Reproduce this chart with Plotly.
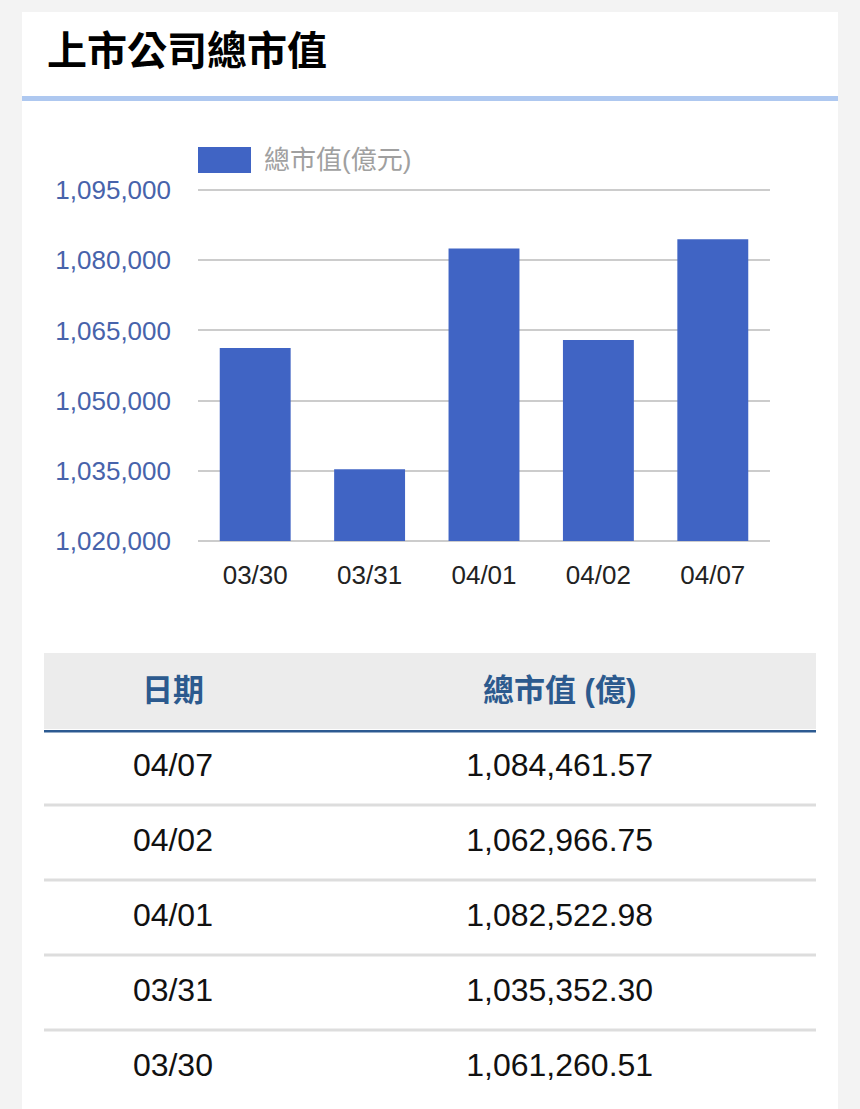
import plotly.graph_objects as go

# 資料
fechas = ["03/30", "03/31", "04/01", "04/02", "04/07"]
valores = [1061260.51, 1035352.30, 1082522.98, 1062966.75, 1084461.57]
y_ticks = [1020000, 1035000, 1050000, 1065000, 1080000, 1095000]
tabla_fechas = ["04/07", "04/02", "04/01", "03/31", "03/30"]
tabla_valores = ["1,084,461.57", "1,062,966.75", "1,082,522.98", "1,035,352.30", "1,061,260.51"]
encabezados = ["日期", "總市值 (億)"]
titulo = "上市公司總市值"
serie = "總市值(億元)"

W, H = 860, 1109
FONT = "Liberation Sans, Arial, Noto Sans CJK TC, sans-serif"
AZUL = "#4064c4"


def py(y):
    # pixel (desde arriba) -> coordenada paper
    return 1 - y / H


def px_(x):
    return x / W


# eje y: 1,020,000 en y=541px, 1,095,000 en y=190px; un poco de margen
# para que plotly dibuje las líneas de los extremos
y_lo, y_hi = y_ticks[0], y_ticks[-1]
ppu = (541 - 190) / (y_hi - y_lo)
extra = 600
y_dom = [py(541 + extra * ppu), py(190 - extra * ppu)]

fig = go.Figure()

# barras desde la base del eje (1,020,000)
fig.add_trace(go.Bar(
    x=fechas, y=[v - y_lo for v in valores], base=y_lo,
    customdata=valores, hovertemplate="%{x}: %{customdata:,.2f}<extra></extra>",
    marker=dict(color=AZUL, line=dict(width=0)),
    width=0.62, showlegend=False,
))

# tabla con texto sobre ejes propios
n = len(tabla_fechas)
filas = [i + 0.5 for i in range(n)]
fig.add_trace(go.Scatter(
    x=[0.167] * n, y=filas, text=tabla_fechas, mode="text",
    textfont=dict(family=FONT, size=32, color="#111111"),
    xaxis="x2", yaxis="y2", showlegend=False, hoverinfo="skip",
))
fig.add_trace(go.Scatter(
    x=[0.668] * n, y=filas, text=tabla_valores, mode="text",
    textfont=dict(family=FONT, size=32, color="#111111"),
    xaxis="x2", yaxis="y2", showlegend=False, hoverinfo="skip",
))

shapes = [
    # tarjeta blanca
    dict(type="rect", xref="paper", yref="paper", x0=px_(22), x1=px_(838), y0=0, y1=py(12),
         fillcolor="white", line=dict(width=0), layer="below"),
    # línea bajo el título
    dict(type="rect", xref="paper", yref="paper", x0=px_(22), x1=px_(838), y0=py(101), y1=py(96),
         fillcolor="#aec8f0", line=dict(width=0), layer="below"),
    # cuadro de leyenda
    dict(type="rect", xref="paper", yref="paper", x0=px_(198), x1=px_(251), y0=py(173), y1=py(147),
         fillcolor=AZUL, line=dict(width=0)),
    # fondo del encabezado
    dict(type="rect", xref="paper", yref="paper", x0=px_(44), x1=px_(816), y0=py(729), y1=py(653),
         fillcolor="#ececec", line=dict(width=0), layer="below"),
    # línea azul del encabezado
    dict(type="line", xref="x2", yref="y2", x0=0, x1=1, y0=0, y1=0,
         line=dict(color="#2c5a91", width=5)),
]
for i in range(1, n):
    shapes.append(dict(type="line", xref="x2", yref="y2", x0=0, x1=1, y0=i, y1=i,
                       line=dict(color="#dddddd", width=3)))

annotations = [
    dict(text="<b>" + titulo + "</b>", xref="paper", yref="paper", x=px_(45), y=py(51),
         xanchor="left", yanchor="middle", showarrow=False,
         font=dict(family=FONT, size=40, color="#000000")),
    dict(text=serie, xref="paper", yref="paper", x=px_(262), y=py(160),
         xanchor="left", yanchor="middle", showarrow=False,
         font=dict(family=FONT, size=26, color="#a0a0a0")),
    dict(text="<b>" + encabezados[0] + "</b>", xref="x2", yref="paper", x=0.167, y=py(690),
         xanchor="center", yanchor="middle", showarrow=False,
         font=dict(family=FONT, size=31, color="#2c5a8e")),
    dict(text="<b>" + encabezados[1] + "</b>", xref="x2", yref="paper", x=0.668, y=py(690),
         xanchor="center", yanchor="middle", showarrow=False,
         font=dict(family=FONT, size=31, color="#2c5a8e")),
]

fig.update_layout(
    width=W, height=H,
    margin=dict(l=0, r=0, t=0, b=0, pad=0, autoexpand=False),
    paper_bgcolor="#f3f3f3",
    plot_bgcolor="rgba(0,0,0,0)",
    font=dict(family=FONT),
    shapes=shapes,
    annotations=annotations,
    xaxis=dict(
        domain=[px_(198), px_(770)], type="category", automargin=False,
        showgrid=False, zeroline=False, showline=False, ticks="",
        tickfont=dict(size=26, color="#222222"), ticklabelstandoff=13,
        fixedrange=True,
    ),
    yaxis=dict(
        domain=y_dom, range=[y_lo - extra, y_hi + extra], automargin=False,
        tickvals=y_ticks,
        tickformat=",", showgrid=True, gridcolor="#cccccc", gridwidth=2,
        zeroline=False, showline=False, ticks="",
        tickfont=dict(size=26, color="#4763ab"), ticklabelstandoff=26,
        fixedrange=True,
    ),
    xaxis2=dict(
        domain=[px_(44), px_(816)], range=[0, 1], anchor="y2", automargin=False,
        visible=False, fixedrange=True,
    ),
    yaxis2=dict(
        domain=[py(1105), py(730)], range=[n, 0], anchor="x2", automargin=False,
        visible=False, fixedrange=True,
    ),
)

# sin el margen por defecto del <body>
fig.write_html(
    "out.html",
    config={"displayModeBar": False},
    post_script="document.body.style.margin='0';document.body.style.background='#f3f3f3';",
)
